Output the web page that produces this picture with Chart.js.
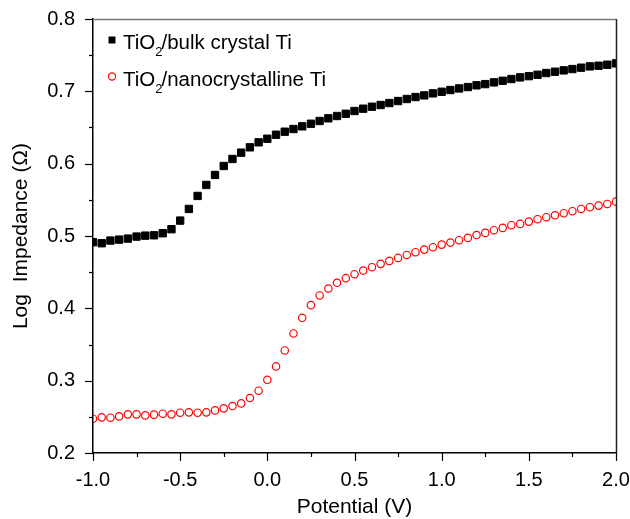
<!DOCTYPE html>
<html>
<head>
<meta charset="utf-8">
<script src="https://cdn.jsdelivr.net/npm/chart.js@4.4.1/dist/chart.umd.min.js"></script>
<style>
  html, body { margin: 0; padding: 0; background: #fff; }
  canvas { display: block; }
</style>
</head>
<body>
<canvas id="impChart" width="630" height="519"></canvas>
<script>
// potential (V) - shared x values for both series
const potential = [
  -1.00, -0.95, -0.90, -0.85, -0.80, -0.75, -0.70, -0.65, -0.60, -0.55,
  -0.50, -0.45, -0.40, -0.35, -0.30, -0.25, -0.20, -0.15, -0.10, -0.05,
   0.00,  0.05,  0.10,  0.15,  0.20,  0.25,  0.30,  0.35,  0.40,  0.45,
   0.50,  0.55,  0.60,  0.65,  0.70,  0.75,  0.80,  0.85,  0.90,  0.95,
   1.00,  1.05,  1.10,  1.15,  1.20,  1.25,  1.30,  1.35,  1.40,  1.45,
   1.50,  1.55,  1.60,  1.65,  1.70,  1.75,  1.80,  1.85,  1.90,  1.95,
   2.00
];

// TiO2 / bulk crystal Ti
const bulkTi = [
  0.4914, 0.4900, 0.4937, 0.4950, 0.4964, 0.4992, 0.5005, 0.5010, 0.5038, 0.5094,
  0.5213, 0.5374, 0.5554, 0.5706, 0.5844, 0.5968, 0.6065, 0.6152, 0.6226, 0.6295,
  0.6345, 0.6400, 0.6442, 0.6479, 0.6516, 0.6552, 0.6590, 0.6627, 0.6659, 0.6690,
  0.6728, 0.6760, 0.6787, 0.6811, 0.6838, 0.6866, 0.6894, 0.6921, 0.6944, 0.6972,
  0.6994, 0.7018, 0.7040, 0.7059, 0.7083, 0.7100, 0.7124, 0.7146, 0.7170, 0.7193,
  0.7210, 0.7229, 0.7253, 0.7271, 0.7290, 0.7308, 0.7327, 0.7345, 0.7354, 0.7368,
  0.7387
];

// TiO2 / nanocrystalline Ti
const nanoTi = [
  0.2474, 0.2493, 0.2488, 0.2506, 0.2534, 0.2534, 0.2520, 0.2530, 0.2543, 0.2534,
  0.2557, 0.2562, 0.2557, 0.2562, 0.2589, 0.2617, 0.2649, 0.2686, 0.2760, 0.2861,
  0.3013, 0.3197, 0.3418, 0.3653, 0.3869, 0.4044, 0.4178, 0.4274, 0.4353, 0.4417,
  0.4472, 0.4522, 0.4569, 0.4615, 0.4656, 0.4697, 0.4738, 0.4776, 0.4812, 0.4845,
  0.4881, 0.4909, 0.4942, 0.4974, 0.5013, 0.5043, 0.5080, 0.5112, 0.5149, 0.5167,
  0.5199, 0.5232, 0.5260, 0.5287, 0.5315, 0.5343, 0.5374, 0.5398, 0.5420, 0.5443,
  0.5475
];

// legend labels split as [before, subscript, after]
const bulkLabel = ["TiO", "2", "/bulk crystal Ti"];
const nanoLabel = ["TiO", "2", "/nanocrystalline Ti"];

const xTitle = "Potential (V)";
const yTitle = "Log  Impedance (\u03A9)";

const FONT = "'Liberation Sans', Arial, Helvetica, sans-serif";

const toPoints = ys => potential.map((x, i) => ({ x, y: ys[i] }));
const isMajorX = v => Math.round(v * 100) % 50 === 0;
const isMajorY = v => Math.round(v * 100) % 10 === 0;

// minor/major tick marks + top/right frame
const frame = {
  id: "frame",
  afterDraw(chart) {
    const { ctx, chartArea: a, scales: { x, y } } = chart;
    ctx.save();
    ctx.lineWidth = 1.2;
    ctx.strokeStyle = "#000";
    x.ticks.forEach(t => {
      const px = Math.round(x.getPixelForValue(t.value)) + 0.5;
      ctx.beginPath();
      ctx.moveTo(px, a.bottom);
      ctx.lineTo(px, a.bottom + (isMajorX(t.value) ? 8 : 4));
      ctx.stroke();
    });
    y.ticks.forEach(t => {
      const py = Math.round(y.getPixelForValue(t.value)) + 0.5;
      ctx.beginPath();
      ctx.moveTo(a.left, py);
      ctx.lineTo(a.left - (isMajorY(t.value) ? 8 : 4), py);
      ctx.stroke();
    });
    // top border (grey) and right border
    ctx.lineWidth = 1.5;
    ctx.strokeStyle = "#7a7a7a";
    ctx.beginPath();
    ctx.moveTo(a.left, a.top + 0.5);
    ctx.lineTo(a.right, a.top + 0.5);
    ctx.stroke();
    ctx.strokeStyle = "#222";
    ctx.beginPath();
    ctx.moveTo(a.right + 0.5, a.top);
    ctx.lineTo(a.right + 0.5, a.bottom);
    ctx.stroke();
    ctx.restore();
  }
};

// legend with subscripts
const subLegend = {
  id: "subLegend",
  afterDraw(chart) {
    const ctx = chart.ctx;
    const rows = [
      { parts: bulkLabel, marker: "rect", y: 40 },
      { parts: nanoLabel, marker: "circle", y: 76.5 }
    ];
    ctx.save();
    rows.forEach(r => {
      // marker
      if (r.marker === "rect") {
        ctx.fillStyle = "#000";
        ctx.fillRect(108.5, r.y - 3.5, 7, 7);
      } else {
        ctx.strokeStyle = "#ff0000";
        ctx.lineWidth = 1.2;
        ctx.beginPath();
        ctx.arc(112, r.y, 3.6, 0, Math.PI * 2);
        ctx.stroke();
      }
      const base = r.y + 9;
      let tx = 123;
      ctx.fillStyle = "#000";
      ctx.textBaseline = "alphabetic";
      ctx.textAlign = "left";
      ctx.font = "20.5px " + FONT;
      ctx.fillText(r.parts[0], tx, base);
      tx += ctx.measureText(r.parts[0]).width;
      ctx.font = "13px " + FONT;
      ctx.fillText(r.parts[1], tx, base + 7);
      tx += ctx.measureText(r.parts[1]).width - 1;
      ctx.font = "20.5px " + FONT;
      ctx.fillText(r.parts[2], tx, base);
    });
    ctx.restore();
  }
};

new Chart(document.getElementById("impChart"), {
  type: "scatter",
  data: {
    datasets: [
      {
        label: bulkLabel.join(""),
        data: toPoints(bulkTi),
        pointStyle: "rect",
        pointRadius: 5.2,
        pointBackgroundColor: "#000",
        pointBorderColor: "#000",
        pointBorderWidth: 1,
        showLine: false,
        clip: 0
      },
      {
        label: nanoLabel.join(""),
        data: toPoints(nanoTi),
        pointStyle: "circle",
        pointRadius: 3.7,
        pointBackgroundColor: "rgba(0,0,0,0)",
        pointBorderColor: "#ff0000",
        pointBorderWidth: 1.2,
        showLine: false,
        clip: 0
      }
    ]
  },
  options: {
    responsive: false,
    animation: false,
    events: [],
    layout: { padding: { top: 19, right: 14, left: 0, bottom: 0 } },
    plugins: { legend: { display: false }, tooltip: { enabled: false } },
    scales: {
      x: {
        type: "linear",
        min: -1,
        max: 2,
        afterFit: s => { s.height = 66; s.paddingLeft = 0; s.paddingRight = 0; },
        ticks: {
          stepSize: 0.25,
          autoSkip: false,
          maxRotation: 0,
          padding: 8,
          color: "#000",
          font: { family: FONT, size: 20 },
          callback: v => isMajorX(v) ? Number(v).toFixed(1) : ""
        },
        grid: { drawOnChartArea: false, drawTicks: true, tickLength: 7, tickColor: "rgba(0,0,0,0)" },
        border: { display: true, color: "#000", width: 1.5 },
        title: {
          display: true,
          text: xTitle,
          color: "#000",
          font: { family: FONT, size: 21, lineHeight: 1 },
          padding: { top: 0, bottom: 1 }
        }
      },
      y: {
        type: "linear",
        min: 0.2,
        max: 0.8,
        afterFit: s => { s.width = 93; s.paddingTop = 0; s.paddingBottom = 0; },
        ticks: {
          stepSize: 0.05,
          autoSkip: false,
          padding: 11,
          color: "#000",
          font: { family: FONT, size: 20 },
          callback: v => isMajorY(v) ? Number(v).toFixed(1) : ""
        },
        grid: { drawOnChartArea: false, drawTicks: true, tickLength: 7, tickColor: "rgba(0,0,0,0)" },
        border: { display: true, color: "#000", width: 1.5 },
        title: {
          display: true,
          text: yTitle,
          color: "#000",
          font: { family: FONT, size: 21, lineHeight: 1.2 },
          padding: { top: 9, bottom: 0 }
        }
      }
    }
  },
  plugins: [frame, subLegend]
});
</script>
</body>
</html>
